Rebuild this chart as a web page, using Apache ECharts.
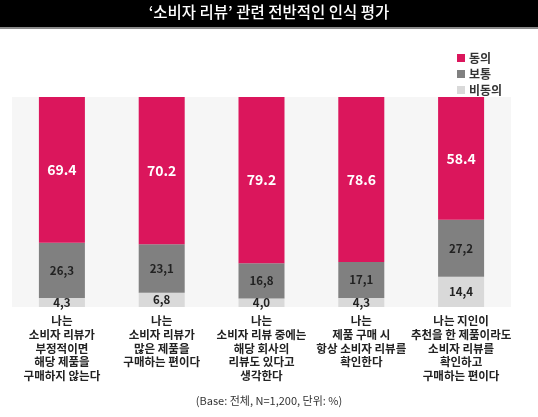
<!DOCTYPE html>
<html><head><meta charset="utf-8">
<script src="https://cdn.jsdelivr.net/npm/echarts@6/dist/echarts.min.js"></script>
<style>html,body{margin:0;padding:0;background:#fff}#c{width:538px;height:417px}</style>
</head><body><div id="c"></div>
<script>
const categories = [
  '나는\n소비자 리뷰가\n부정적이면\n해당 제품을\n구매하지 않는다',
  '나는\n소비자 리뷰가\n많은 제품을\n구매하는 편이다',
  '나는\n소비자 리뷰 중에는\n해당 회사의\n리뷰도 있다고\n생각한다',
  '나는\n제품 구매 시\n항상 소비자 리뷰를\n확인한다',
  '나는 지인이\n추천을 한 제품이라도\n소비자 리뷰를\n확인하고\n구매하는 편이다'
];
const agree = [69.4, 70.2, 79.2, 78.6, 58.4];
const neutral = [26.3, 23.1, 16.8, 17.1, 27.2];
const disagree = [4.3, 6.8, 4.0, 4.3, 14.4];
const seriesNames = ['동의', '보통', '비동의'];
const titleText = '‘소비자 리뷰’ 관련 전반적인 인식 평가';
const noteText = '(Base: 전체, N=1,200, 단위: %)';

const FONT = '"Noto Sans CJK KR", "Noto Sans", sans-serif';
const chart = echarts.init(document.getElementById('c'), null, {renderer: 'canvas'});
const commaFmt = p => p.value.toFixed(1).replace('.', ',');
chart.setOption({
  backgroundColor: '#ffffff',
  textStyle: {fontFamily: FONT},
  animation: false,
  graphic: [
    {type: 'rect', left: 0, top: 0, shape: {width: 538, height: 27}, style: {fill: '#000000'}},
    {type: 'rect', left: 0, top: 27, shape: {width: 538, height: 2}, style: {fill: '#8a8a8a'}},
    {type: 'text', left: 'center', top: 4, style: {text: titleText, fill: '#ffffff', font: '500 15.5px ' + FONT}},
    {type: 'text', left: 'center', top: 395, style: {text: noteText, fill: '#333333', font: '11px ' + FONT}}
  ],
  legend: {
    orient: 'vertical', left: 452, top: 47, itemWidth: 8, itemHeight: 8, itemGap: 4, icon: 'rect',
    data: seriesNames,
    textStyle: {fontSize: 12, fontWeight: 'bold', color: '#333', fontFamily: FONT, padding: [0, 0, 0, -1]}
  },
  grid: {left: 12, right: 27, top: 97, bottom: 110, show: true, backgroundColor: '#f6f6f6', borderWidth: 0},
  xAxis: {
    type: 'category', data: categories,
    axisLine: {show: false}, axisTick: {show: false},
    axisLabel: {interval: 0, margin: 7, fontSize: 11.5, lineHeight: 13.7, fontWeight: 'bold', color: '#222', fontFamily: FONT}
  },
  yAxis: {type: 'value', min: 0, max: 100, show: false, splitLine: {show: false}},
  series: [
    {name: '비동의', type: 'bar', stack: 's', data: disagree, barWidth: 46, itemStyle: {color: '#d9d9d9'},
     label: {show: true, position: 'inside', formatter: commaFmt, color: '#222', fontSize: 11.5, fontWeight: 'bold', fontFamily: FONT}},
    {name: '보통', type: 'bar', stack: 's', data: neutral, itemStyle: {color: '#808080'},
     label: {show: true, position: 'inside', formatter: commaFmt, color: '#222', fontSize: 11.5, fontWeight: 'bold', fontFamily: FONT}},
    {name: '동의', type: 'bar', stack: 's', data: agree, itemStyle: {color: '#db165c'},
     label: {show: true, position: 'inside', formatter: p => p.value.toFixed(1), color: '#fff', fontSize: 14, fontWeight: 'bold', fontFamily: FONT}}
  ]
});
</script></body></html>
